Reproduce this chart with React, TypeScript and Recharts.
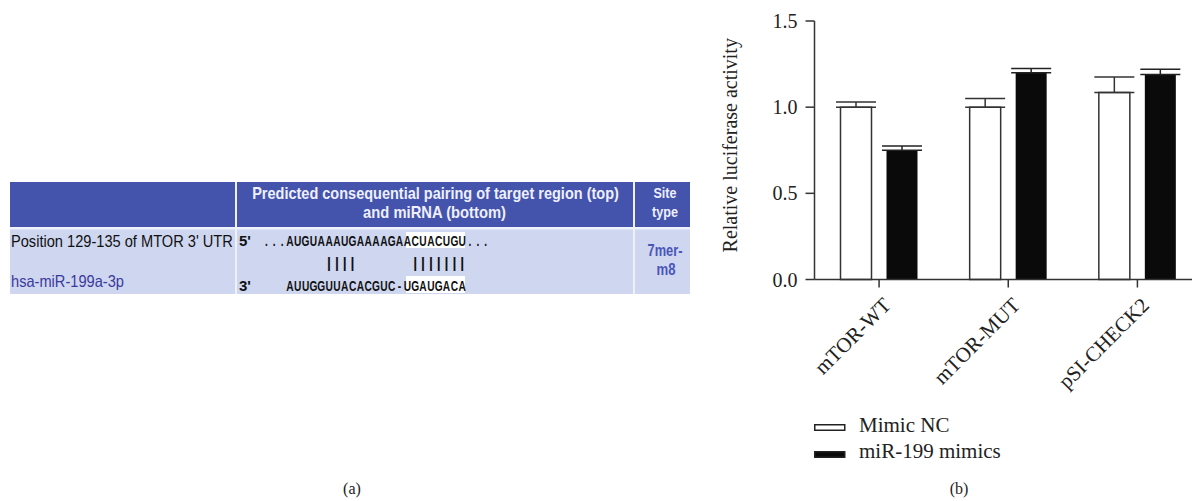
import React, { useLayoutEffect, useRef, useState } from 'react';
import { Bar, BarChart, ErrorBar, Legend, XAxis, YAxis } from 'recharts';

// panel (b) data
const categories = ['mTOR-WT', 'mTOR-MUT', 'pSI-CHECK2'];
const mimicNC = [1.0, 1.0, 1.085];
const mimicNCErr = [0.03, 0.05, 0.09];
const mir199 = [0.75, 1.2, 1.19];
const mir199Err = [0.025, 0.025, 0.03];
const yTicks = [0, 0.5, 1.0, 1.5];
const seriesNames = ['Mimic NC', 'miR-199 mimics'];

// panel (a) text
const headerLines = ['Predicted consequential pairing of target region (top)', 'and miRNA (bottom)'];
const siteHeader = ['Site', 'type'];
const utrLabel = "Position 129-135 of MTOR 3' UTR";
const mirnaLabel = 'hsa-miR-199a-3p';
const utrSeq = '...AUGUAAAUGAAAAGAACUACUGU...';
const pairing = '        ||||       |||||||';
const mirnaSeq = '   AUUGGUUACACGUC-UGAUGACA';
const siteType = ['7mer-', 'm8'];

const data = categories.map((name, i) => ({
    name,
    nc: mimicNC[i],
    ncErr: [0, mimicNCErr[i]],
    mir: mir199[i],
    mirErr: [0, mir199Err[i]],
}));

const SERIF = '"Liberation Serif", "DejaVu Serif", serif';
const SANS = '"Liberation Sans", Arial, sans-serif';

const charX = (j: number) => 286 + 7.83 * (j - 2.5);

const SeqRow = ({ seq, y, size = 15, sx = 0.68 }: { seq: string; y: number; size?: number; sx?: number }) => (
    <g>
        {seq.split('').map((ch, j) =>
            ch === ' ' ? null : (
                <text
                    key={j}
                    transform={`translate(${charX(j)},${y}) scale(${sx},1)`}
                    textAnchor="middle"
                    fontFamily={SANS}
                    fontWeight="bold"
                    fontSize={size}
                    fill="#111"
                >
                    {ch}
                </text>
            )
        )}
    </g>
);

// squeezes a text horizontally so that it is w pixels wide
const FitText = ({ x, y, w, anchor = 'start', size = 16, bold = false, fill = '#111', children }: any) => {
    const ref = useRef<SVGTextElement>(null);
    const [sx, setSx] = useState(1);
    useLayoutEffect(() => {
        if (ref.current) {
            const len = ref.current.getComputedTextLength();
            if (len > 0) setSx(w / len);
        }
    }, [w]);
    return (
        <text
            ref={ref}
            transform={`translate(${x},${y}) scale(${sx},1)`}
            textAnchor={anchor}
            fontFamily={SANS}
            fontSize={size}
            fontWeight={bold ? 'bold' : 'normal'}
            fill={fill}
        >
            {children}
        </text>
    );
};

const PanelA = () => {
    const head = '#4453ab';
    const body = '#ced6f0';
    return (
        <svg width={1192} height={501} style={{ position: 'absolute', left: 0, top: 0 }}>
            <rect x={10} y={182} width={680} height={112} fill="#eef0fa" />
            <rect x={10} y={182} width={225} height={45} fill={head} />
            <rect x={237} y={182} width={396} height={45} fill={head} />
            <rect x={635} y={182} width={55} height={45} fill={head} />
            <rect x={10} y={229.5} width={225} height={64.5} fill={body} />
            <rect x={237} y={229.5} width={396} height={64.5} fill={body} />
            <rect x={635} y={229.5} width={55} height={64.5} fill={body} />

            <FitText x={435.5} y={199} w={367} anchor="middle" bold fill="#eef0ff">{headerLines[0]}</FitText>
            <FitText x={434.5} y={218} w={143} anchor="middle" bold fill="#eef0ff">{headerLines[1]}</FitText>
            <FitText x={665} y={198} w={23} size={15} anchor="middle" bold fill="#eef0ff">{siteHeader[0]}</FitText>
            <FitText x={665} y={217} w={26} size={15} anchor="middle" bold fill="#eef0ff">{siteHeader[1]}</FitText>

            <FitText x={11} y={247} w={222} size={16.5}>{utrLabel}</FitText>
            <FitText x={11} y={287} w={113} size={16.5} fill="#3b3a9c">{mirnaLabel}</FitText>

            <rect x={406} y={232} width={59} height={16} fill="#fff" />
            <rect x={406} y={276} width={59} height={17} fill="#fff" />
            <text x={239} y={246} fontFamily={SANS} fontWeight="bold" fontSize={15} fill="#111">5'</text>
            <text x={239} y={291} fontFamily={SANS} fontWeight="bold" fontSize={15} fill="#111">3'</text>
            <SeqRow seq={utrSeq} y={246} />
            <SeqRow seq={pairing} y={268} size={14} sx={1} />
            <SeqRow seq={mirnaSeq} y={291} />

            <FitText x={665} y={256} w={35} anchor="middle" bold fill="#4a55b8">{siteType[0]}</FitText>
            <FitText x={666} y={275} w={19} anchor="middle" bold fill="#4a55b8">{siteType[1]}</FitText>

            <text x={352} y={494} textAnchor="middle" fontFamily={SERIF} fontSize={16} fill="#222">(a)</text>
            <text x={959} y={494} textAnchor="middle" fontFamily={SERIF} fontSize={16} fill="#222">(b)</text>
        </svg>
    );
};

const XTick = ({ x, y, payload }: any) => {
    const ax = x + 13;
    const ay = y + 17;
    return (
        <text
            x={ax}
            y={ay}
            transform={`rotate(-45 ${ax} ${ay})`}
            textAnchor="end"
            fontFamily={SERIF}
            fontSize={21}
            fill="#222"
        >
            {payload.value}
        </text>
    );
};

const YLabel = ({ viewBox }: any) => {
    const x = viewBox.x + 37;
    const y = viewBox.y + viewBox.height / 2 - 5;
    return (
        <text x={x} y={y} transform={`rotate(-90 ${x} ${y})`} textAnchor="middle" fontFamily={SERIF} fontSize={20} fill="#222">
            Relative luciferase activity
        </text>
    );
};

const LegendBox = ({ payload }: any) => (
    <svg width={220} height={60} style={{ display: 'block' }}>
        {(payload || []).map((entry: any, i: number) => (
            <g key={i}>
                <rect
                    x={0.75}
                    y={16.75 + i * 27}
                    width={30}
                    height={5.5}
                    fill={entry.color}
                    stroke="#222"
                    strokeWidth={1.5}
                />
                <text x={45} y={24 + i * 26} fontFamily={SERIF} fontSize={21} fill="#222">
                    {entry.value}
                </text>
            </g>
        ))}
    </svg>
);

export default function App() {
    return (
        <div style={{ position: 'relative', width: 1192, height: 501, overflow: 'hidden', background: '#fff' }}>
            <style>{'body{margin:0}'}</style>
            <PanelA />
            <div style={{ position: 'absolute', left: 700, top: 0 }}>
                <BarChart
                    width={502}
                    height={501}
                    data={data}
                    margin={{ top: 21, right: 0, bottom: 0, left: 0 }}
                    barSize={31}
                    barGap={15}
                >
                    <XAxis
                        dataKey="name"
                        height={221.5}
                        interval={0}
                        tickSize={8}
                        tick={<XTick />}
                        axisLine={{ stroke: '#333', strokeWidth: 1.5 }}
                        tickLine={{ stroke: '#333', strokeWidth: 1.5 }}
                    />
                    <YAxis
                        width={114.5}
                        domain={[0, 1.5]}
                        ticks={yTicks}
                        tickFormatter={(v: number) => v.toFixed(1)}
                        tickSize={9}
                        tickMargin={8}
                        tick={{ fill: '#222', fontSize: 20, fontFamily: SERIF }}
                        axisLine={{ stroke: '#333', strokeWidth: 1.5 }}
                        tickLine={{ stroke: '#333', strokeWidth: 1.5 }}
                        label={(props: any) => <YLabel {...props} />}
                    />
                    <Legend
                        layout="vertical"
                        align="center"
                        verticalAlign="middle"
                        content={<LegendBox />}
                        wrapperStyle={{ left: 114, top: 408, width: 220 }}
                    />
                    <Bar dataKey="nc" name={seriesNames[0]} fill="#ffffff" stroke="#333" strokeWidth={1.5} isAnimationActive={false}>
                        <ErrorBar dataKey="ncErr" width={20} stroke="#333" strokeWidth={1.5} />
                    </Bar>
                    <Bar dataKey="mir" name={seriesNames[1]} fill="#0a0a0a" isAnimationActive={false}>
                        <ErrorBar dataKey="mirErr" width={20} stroke="#222" strokeWidth={1.5} />
                    </Bar>
                </BarChart>
            </div>
        </div>
    );
}
